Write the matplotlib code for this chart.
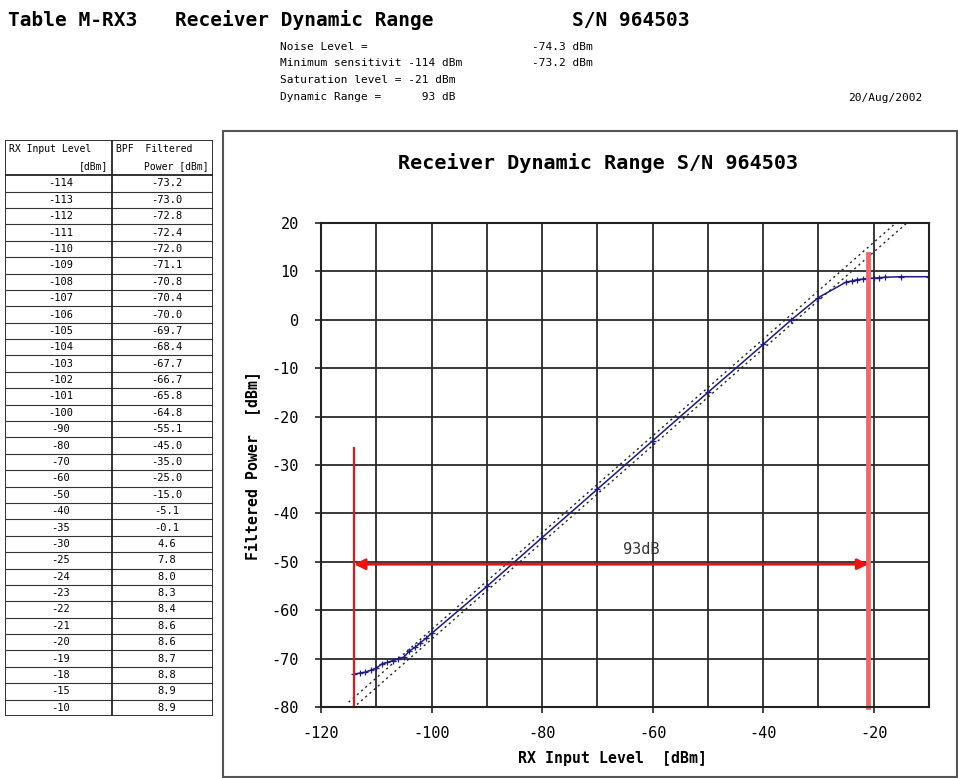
import matplotlib.pyplot as plt
from matplotlib.patches import Rectangle

# measured data: RX input level vs. filtered power
rx_level = [-114, -113, -112, -111, -110, -109, -108, -107, -106, -105,
            -104, -103, -102, -101, -100, -90, -80, -70, -60, -50, -40,
            -35, -30, -25, -24, -23, -22, -21, -20, -19, -18, -15, -10]
filt_power = [-73.2, -73.0, -72.8, -72.4, -72.0, -71.1, -70.8, -70.4, -70.0, -69.7,
              -68.4, -67.7, -66.7, -65.8, -64.8, -55.1, -45.0, -35.0, -25.0, -15.0, -5.1,
              -0.1, 4.6, 7.8, 8.0, 8.3, 8.4, 8.6, 8.6, 8.7, 8.8, 8.9, 8.9]

# ideal linear response (gain +35 dB) with +/-1 dB limits
ideal_x = [-115, -13]
ideal_gain = [34.0, 36.0]

# dynamic range markers
sens_level = -114
sat_level = -21
range_db = sat_level - sens_level
range_y = -50.5
sens_top = -26.5
sat_top = 13.5

header_lines = ["Noise Level =", "Minimum sensitivit -114 dBm",
                "Saturation level = -21 dBm", "Dynamic Range =      93 dB"]
header_values = ["-74.3 dBm", "-73.2 dBm"]

W, H = 958, 778
mono = "DejaVu Sans Mono"
plt.rcParams["axes.unicode_minus"] = False


def fx(px):
    return px / W


def fy(py):
    return 1 - py / H


fig = plt.figure(figsize=(W / 100, H / 100), dpi=100)
fig.patch.set_facecolor("white")

# page header
fig.text(fx(8), fy(20), "Table M-RX3", family=mono, weight="bold", size=14, va="center")
fig.text(fx(175), fy(20), "Receiver Dynamic Range", family=mono, weight="bold", size=14, va="center")
fig.text(fx(572), fy(20), "S/N 964503", family=mono, weight="bold", size=14, va="center")
for i, line in enumerate(header_lines):
    fig.text(fx(280), fy(47 + i * 16.5), line, family=mono, size=8, va="center")
for i, val in enumerate(header_values):
    fig.text(fx(532), fy(47 + i * 16.5), val, family=mono, size=8, va="center")
fig.text(fx(922), fy(98), "20/Aug/2002", family=mono, size=8, va="center", ha="right")

# data table on the left
n = len(rx_level)
head_h = 2.15
ax_t = fig.add_axes([fx(5), fy(716), fx(213) - fx(5), (716 - 140) / H])
ax_t.set_xlim(0, 1)
ax_t.set_ylim(n + head_h, 0)
ax_t.axis("off")
col_split = (112 - 5) / (213 - 5)
ax_t.hlines([0, head_h, n + head_h], 0, 1, color="#222222", lw=1.3)
ax_t.hlines([head_h + i for i in range(1, n)], 0, 1, color="#333333", lw=0.8)
ax_t.vlines([0, col_split, 1], 0, n + head_h, color="#222222", lw=1.3)
ax_t.text(0.02, 0.55, "RX Input Level", family=mono, size=7, va="center")
ax_t.text(col_split - 0.02, 1.6, "[dBm]", family=mono, size=7, va="center", ha="right")
ax_t.text(col_split + 0.02, 0.55, "BPF  Filtered", family=mono, size=7, va="center")
ax_t.text(0.98, 1.6, "Power [dBm]", family=mono, size=7, va="center", ha="right")
for i, (x, p) in enumerate(zip(rx_level, filt_power)):
    yc = head_h + i + 0.5
    ax_t.text(col_split / 2 + 0.01, yc, f"{x}", family=mono, size=7.5, va="center", ha="center")
    ax_t.text((col_split + 1) / 2 + 0.02, yc, f"{p:.1f}", family=mono, size=7.5, va="center", ha="center")

# chart area frame
fig.add_artist(Rectangle((fx(223), fy(777)), fx(957) - fx(223), (777 - 131) / H,
                         transform=fig.transFigure, fill=False, ec="#555555", lw=1.5))
fig.text(fx(598), fy(163), "Receiver Dynamic Range S/N 964503", family=mono,
         weight="bold", size=14.5, ha="center", va="center")

ax = fig.add_axes([fx(321), fy(707), fx(929) - fx(321), (707 - 223) / H])
ax.set_xlim(-120, -10)
ax.set_ylim(-80, 20)
ax.set_xticks(range(-120, -10, 20))
ax.set_xticks(range(-110, -9, 20), minor=True)
ax.set_yticks(range(-80, 21, 10))
ax.grid(True, which="both", color="#2a2a2a", lw=1.3)
ax.set_axisbelow(True)
ax.tick_params(which="major", length=4, width=1.2, color="#222222", labelsize=11)
ax.tick_params(axis="y", pad=12)
ax.tick_params(axis="x", pad=10)
ax.tick_params(which="minor", length=0)
for lab in ax.get_xticklabels() + ax.get_yticklabels():
    lab.set_family(mono)
for s in ax.spines.values():
    s.set_color("#222222")
    s.set_linewidth(1.5)

# ideal response limits
for g in ideal_gain:
    ax.plot(ideal_x, [x + g for x in ideal_x], color="#222222", lw=1, ls=(0, (1.5, 2.5)))

ax.plot(rx_level, filt_power, color="#1c1c84", lw=1.1, marker="+", ms=4, mew=0.9)

# sensitivity / saturation markers and dynamic range arrow
ax.plot([sens_level, sens_level], [-80, sens_top], color="#e01818", lw=1.6, clip_on=False)
ax.plot([sat_level, sat_level], [-80, sat_top], color="#ee6a6a", lw=3.5, clip_on=False)
ax.annotate("", xy=(sat_level, range_y), xytext=(sens_level, range_y),
            arrowprops=dict(arrowstyle="<|-|>", color="#f01010", lw=2, mutation_scale=16,
                            shrinkA=0, shrinkB=0))
ax.text(-62, range_y + 1.5, f"{range_db}dB", family=mono, size=11, ha="center", va="bottom",
        color="#333333")

fig.text(fx(252), fy(465), "Filtered Power  [dBm]", family=mono, weight="bold", size=10.7,
         rotation=90, ha="center", va="center")
fig.text(fx(612), fy(758), "RX Input Level  [dBm]", family=mono, weight="bold", size=10.7,
         ha="center", va="center")

fig.savefig("out.png", dpi=100)
